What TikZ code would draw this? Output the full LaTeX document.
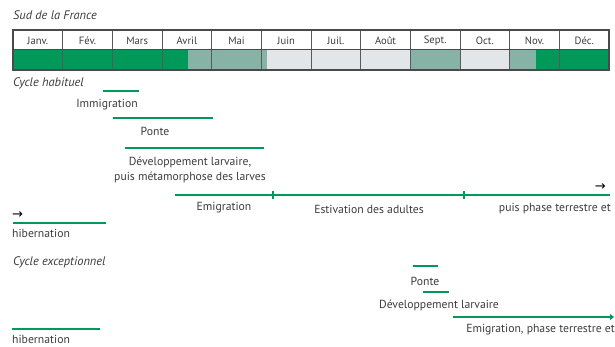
\documentclass[tikz,border=0pt]{standalone}
\usepackage{fontspec}
\setmainfont{PT Sans}
\newfontfamily\symbfont{DejaVu Sans}
\usetikzlibrary{positioning,arrows.meta}

\definecolor{vert}{HTML}{00995A}
\definecolor{sauge}{HTML}{86B3A6}
\definecolor{brume}{HTML}{E2E6E8}
\definecolor{texte}{HTML}{3C3C3C}
\definecolor{cadre}{HTML}{4A4A4A}

\tikzset{
  phase/.style={draw=vert, line width=2.6pt},
  etiquette/.style={text=texte, font=\fontsize{11.7}{14}\selectfont, inner sep=0pt},
  titre/.style={etiquette, font=\fontsize{12.4}{14}\selectfont\itshape, anchor=west},
  mois/.style={etiquette, font=\fontsize{10.6}{12}\selectfont},
  fleche/.style={inner sep=0pt, font=\symbfont\fontsize{13}{13}\selectfont},
}

\begin{document}
\begin{tikzpicture}[x=1pt, y=-1pt]
    \useasboundingbox (0,0) rectangle (615,347);

    % calendrier
    \node[titre] (sud) at (13,15) {Sud de la France};
    \fill[vert]  (13,50) rectangle (188,70);
    \fill[sauge] (188,50) rectangle (267,70);
    \fill[brume] (267,50) rectangle (411,70);
    \fill[sauge] (411,50) rectangle (460,70);
    \fill[brume] (460,50) rectangle (510,70);
    \fill[sauge] (510,50) rectangle (536,70);
    \fill[vert]  (536,50) rectangle (609,70);
    \foreach \m [count=\i] in {Janv.,Fév.,Mars,Avril,Mai,Juin,Juil.,Août,Sept.,Oct.,Nov.,Déc.} {
        \node[mois] (m\i) at ({13+49.67*(\i-0.5)},41) {\m};
        \ifnum\i>1
            \draw[gray!70!black, line width=0.9pt] ({13+49.67*(\i-1)},30) -- ({13+49.67*(\i-1)},70);
        \fi
    }
    \draw[cadre, line width=1pt] (13,50) -- (609,50);
    \draw[cadre, line width=1.6pt] (13,30) rectangle (609,70);

    % cycle habituel
    \node[titre] (habituel) at (13,83) {Cycle habituel};

    \coordinate (imm-a) at (103,91);
    \coordinate (imm-b) at (139,91);
    \draw[phase] (imm-a) -- (imm-b);
    \node[etiquette] (imm) at (107,105) {Immigration};

    \coordinate (ponte-a) at (113,118);
    \coordinate (ponte-b) at (213,118);
    \draw[phase] (ponte-a) -- (ponte-b);
    \node[etiquette] (ponte) at (155,131) {Ponte};

    \coordinate (larve-a) at (125,148);
    \coordinate (larve-b) at (264,148);
    \draw[phase] (larve-a) -- (larve-b);
    \node[etiquette, align=center] (larve) at (190,169.5)
        {Développement larvaire,\\[1pt]puis métamorphose des larves};

    \coordinate (emig-a) at (175,195);
    \coordinate (emig-b) at (610,195);
    \coordinate (tic1) at (273,195);
    \coordinate (tic2) at (464,195);
    \draw[phase] (emig-a) -- (emig-b);
    \draw[vert, line width=2pt] ([yshift=-4pt]tic1) -- ([yshift=4pt]tic1);
    \draw[vert, line width=2pt] ([yshift=-4pt]tic2) -- ([yshift=4pt]tic2);
    \node[etiquette] (emig) at (224,208) {Emigration};
    \node[etiquette] (estiv) at (369,209) {Estivation des adultes};
    \node[etiquette, anchor=east] (terre) at (611,209) {puis phase terrestre et};
    \node[fleche, anchor=east] (suite) at (606,187) {→};

    \node[fleche, anchor=west] (reprise) at (12,215) {→};
    \coordinate (hib-a) at (13,223);
    \coordinate (hib-b) at (106,223);
    \draw[phase] (hib-a) -- (hib-b);
    \node[etiquette, anchor=west] (hib) at (12,233) {hibernation};

    % cycle exceptionnel
    \node[titre] (except) at (13,262) {Cycle exceptionnel};

    \coordinate (xponte-a) at (413,266);
    \coordinate (xponte-b) at (438,266);
    \draw[phase] (xponte-a) -- (xponte-b);
    \node[etiquette] (xponte) at (425,281) {Ponte};

    \coordinate (xlarve-a) at (423,292);
    \coordinate (xlarve-b) at (449,292);
    \draw[phase] (xlarve-a) -- (xlarve-b);
    \node[etiquette] (xlarve) at (439,305) {Développement larvaire};

    \coordinate (xemig-a) at (453,317);
    \coordinate (xemig-b) at (614,317);
    \draw[phase, -{Triangle[length=4pt, width=6pt]}] (xemig-a) -- (xemig-b);
    \node[etiquette, anchor=east] (xterre) at (615,330) {Emigration, phase terrestre et};

    \coordinate (xhib-a) at (12,329);
    \coordinate (xhib-b) at (100,329);
    \draw[phase] (xhib-a) -- (xhib-b);
    \node[etiquette, anchor=west] (xhib) at (12,339) {hibernation};
\end{tikzpicture}
\end{document}
